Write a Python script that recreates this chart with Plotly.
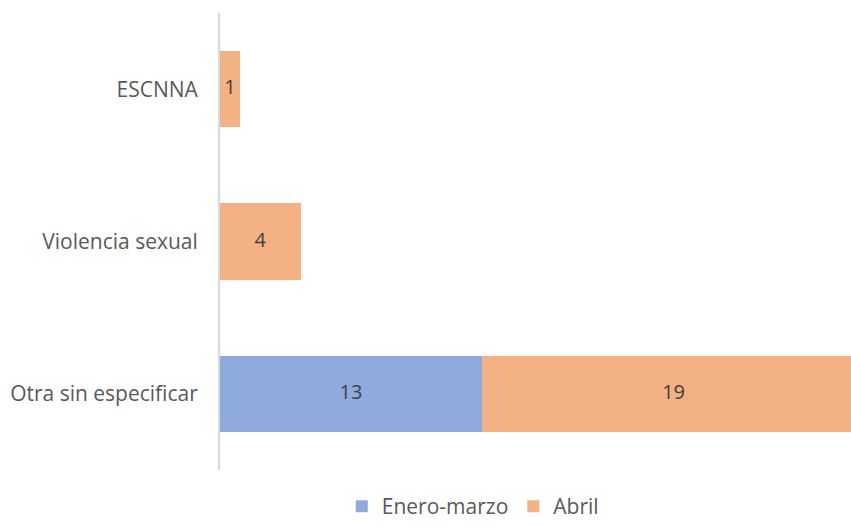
import plotly.graph_objects as go

categories = ["Otra sin especificar", "Violencia sexual", "ESCNNA"]
enero_marzo = [13, 0, 0]
abril = [19, 4, 1]
series_names = ["Enero-marzo", "Abril"]
colors = ["#8faadc", "#f4b183"]

FONT = "Open Sans"

fig = go.Figure()
series = [enero_marzo, abril]
base = [0] * len(categories)
for name, vals, col in zip(series_names, series, colors):
    fig.add_trace(go.Bar(
        y=categories, x=vals, name=name, orientation="h",
        marker=dict(color=col, line=dict(width=0)),
        textposition="none", cliponaxis=False, hoverinfo="x+y+name",
    ))
    mids, labels, ys = [], [], []
    for i, v in enumerate(vals):
        if v:
            mids.append(base[i] + v / 2)
            labels.append(str(v))
            ys.append(categories[i])
        base[i] += v
    fig.add_trace(go.Scatter(
        x=mids, y=ys, text=labels, mode="text", showlegend=False,
        textfont=dict(family=FONT, size=20, color="#404040"),
        hoverinfo="skip", cliponaxis=False,
    ))

fig.update_layout(
    width=851, height=527,
    barmode="stack", bargap=0.5,
    plot_bgcolor="white", paper_bgcolor="white",
    margin=dict(l=220, r=0, t=13, b=50),
    xaxis=dict(range=[0, 31.3], visible=False, fixedrange=True),
    yaxis=dict(showline=True, linecolor="#d9d9d9", linewidth=2,
               ticks="", ticklabelstandoff=16, fixedrange=True,
               tickfont=dict(family=FONT, size=21, color="#595959"),
               showgrid=False, zeroline=False),
    legend=dict(orientation="h", x=0.193, xanchor="left", y=-0.08, yanchor="middle",
                font=dict(family=FONT, size=21, color="#595959"),
                traceorder="normal"),
    showlegend=True,
)

fig.write_html("out.html", config={"displayModeBar": False},
               post_script="document.body.style.margin='0';document.body.style.overflow='hidden';")
